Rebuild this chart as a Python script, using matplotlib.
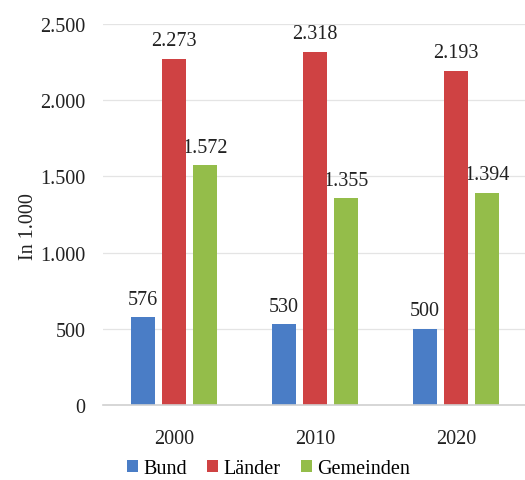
import matplotlib.pyplot as plt
import numpy as np

years = ['2000', '2010', '2020']
bund = [576, 530, 500]
laender = [2273, 2318, 2193]
gemeinden = [1572, 1355, 1394]
series_names = ['Bund', 'Länder', 'Gemeinden']
yticks = [0, 500, 1000, 1500, 2000, 2500]

colors = ['#4a7dc6', '#cf4243', '#94bd4a']

plt.rcParams['font.family'] = ['Liberation Serif', 'DejaVu Serif']
fs = 14.5


def de_fmt(v):
    return f'{v:,}'.replace(',', '.')


fig = plt.figure(figsize=(5.25, 4.81), dpi=100)
ax = fig.add_axes([0.197, 0.156, 0.806, 0.792])  # llx, lly, w, h
ax.set_axisbelow(True)

x = np.arange(len(years))
width = 0.17
offsets = [-0.22, 0.0, 0.22]
for vals, off, col, name in zip((bund, laender, gemeinden), offsets,
                                colors, series_names):
    bars = ax.bar(x + off, vals, width, color=col, label=name, zorder=2)
    for b, v in zip(bars, vals):
        ax.text(b.get_x() + b.get_width() / 2, v + 55, de_fmt(v),
                ha='center', va='bottom', fontsize=fs, color='#222222',
                zorder=1.8)

ax.set_ylim(0, 2500)
ax.set_xlim(-0.5, 2.5)
ax.set_yticks(yticks)
ax.set_yticklabels([de_fmt(v) for v in yticks])
ax.set_xticks(x)
ax.set_xticklabels(years)
ax.tick_params(axis='both', length=0, labelsize=fs, colors='#222222')
ax.tick_params(axis='y', pad=13)
ax.tick_params(axis='x', pad=17)
ax.set_ylabel('In 1.000', fontsize=fs, color='#222222')
ax.yaxis.set_label_coords(-0.155, 0.47)
ax.grid(axis='y', color='#e4e4e4', linewidth=0.9)
for s in ('top', 'right', 'left'):
    ax.spines[s].set_visible(False)
ax.spines['bottom'].set_color('#d0d0d0')
ax.spines['bottom'].set_linewidth(1.2)

ax.legend(loc='upper center', bbox_to_anchor=(0.39, -0.115), ncol=3,
          frameon=False, fontsize=fs, handlelength=0.55, handleheight=0.55,
          handletextpad=0.25, columnspacing=1.0, borderpad=0)

fig.savefig('out.png', dpi=100)
